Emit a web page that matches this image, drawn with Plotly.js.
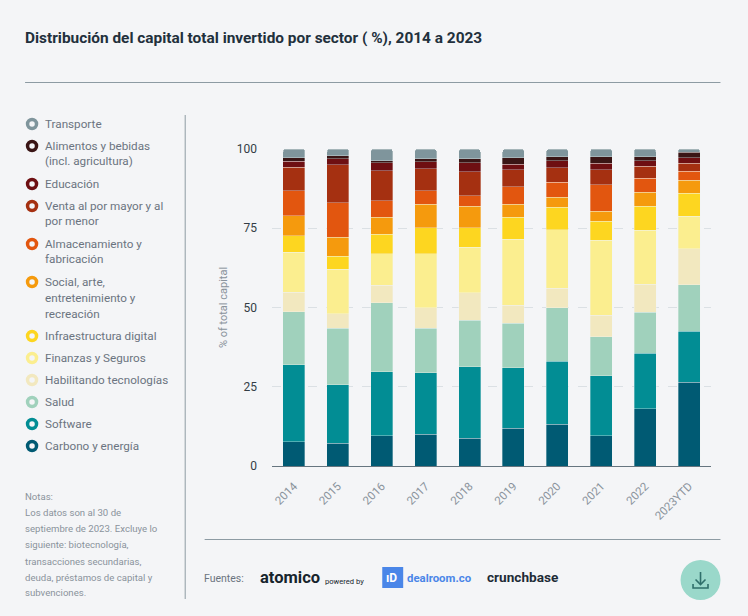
<!DOCTYPE html>
<html>
<head>
<meta charset="utf-8">
<script src="https://cdn.plot.ly/plotly-3.0.1.min.js"></script>
<style>html,body{margin:0;padding:0;background:#f4f5f7}#c{width:748px;height:616px}</style>
</head>
<body>
<div id="c"></div>
<script>
const years = ['2014','2015','2016','2017','2018','2019','2020','2021','2022','2023YTD'];
const carbono = [7.6,7.2,9.5,10,8.8,11.9,13.1,9.5,18,26.5];
const software = [24.3,18.4,20.2,19.4,22.5,19.1,19.9,18.9,17.6,16];
const salud = [16.8,17.8,21.8,14,14.7,14,17,12.4,12.9,14.7];
const habilitando = [6.1,4.6,5.5,6.5,8.6,5.7,6.1,6.7,8.9,11.4];
const finanzas = [12.6,14,10,17.1,14.4,20.8,18.5,23.7,17,10.2];
const infraestructura = [5.3,4.1,6.1,8.2,6.2,7,7,6,7.6,7.2];
const social = [6.3,6.1,5.3,7.4,6.8,4.1,3.2,3.2,4.4,4.1];
const almacenamiento = [7.9,10.9,5.3,4.3,3.3,5.5,4.7,8.4,4.3,2.9];
const venta = [7.4,12,9.5,6.9,7.6,5.4,4.6,4.7,3.8,2.5];
const educacion = [1.9,1.9,2.5,2.2,2.8,1.7,2.2,2,1.8,1.8];
const alimentos = [1.1,0.9,0.6,1,1.2,2,1.3,2.1,1.3,1.6];
const transporte = [2.7,2.1,3.7,3,3.1,2.8,2.4,2.4,2.4,1.1];

const names = ['Carbono y energía','Software','Salud','Habilitando tecnologías','Finanzas y Seguros','Infraestructura digital','Social, arte, entretenimiento y recreación','Almacenamiento y fabricación','Venta al por mayor y al por menor','Educación','Alimentos y bebidas (incl. agricultura)','Transporte'];
const colors = ['#005a73','#028d94','#a0d1bc','#f2e8bf','#fbee8f','#fdd620','#f59a0d','#e2560f','#a53011','#6e0f12','#3a1515','#7f959c'];
const seriesValues = [carbono,software,salud,habilitando,finanzas,infraestructura,social,almacenamiento,venta,educacion,alimentos,transporte];

const legendLines = [
  {i:11, lines:['Transporte'], y:[124]},
  {i:10, lines:['Alimentos y bebidas','(incl. agricultura)'], y:[146,161]},
  {i:9, lines:['Educación'], y:[184]},
  {i:8, lines:['Venta al por mayor y al','por menor'], y:[206,221]},
  {i:7, lines:['Almacenamiento y','fabricación'], y:[244,259]},
  {i:6, lines:['Social, arte,','entretenimiento y','recreación'], y:[282,298,314]},
  {i:5, lines:['Infraestructura digital'], y:[336]},
  {i:4, lines:['Finanzas y Seguros'], y:[358]},
  {i:3, lines:['Habilitando tecnologías'], y:[380]},
  {i:2, lines:['Salud'], y:[402]},
  {i:1, lines:['Software'], y:[424]},
  {i:0, lines:['Carbono y energía'], y:[446]}
];
const notes = ['Notas:','Los datos son al 30 de','septiembre de 2023. Excluye lo','siguiente: biotecnología,','transacciones secundarias,','deuda, préstamos de capital y','subvenciones.'];
const noteY = [496,512,528,544,561,577,592];

const L=271.5, R=36.5, T=149, B=150, W=748-L-R, H=616-T-B;
const X=p=>(p-L)/W, Y=p=>1-(p-T)/H;
const FF='Roboto, sans-serif';
const ann=[], shp=[];
function text(t,x,y,size,color,opt){
  ann.push(Object.assign({text:t,xref:'paper',yref:'paper',x:X(x-2.5),y:Y(y),xanchor:'left',yanchor:'middle',showarrow:false,
    font:{family:FF,size:size,color:color}},opt||{}));
}
function line(x0,y0,x1,y1,color,w){
  shp.push({type:'line',xref:'paper',yref:'paper',x0:X(x0),y0:Y(y0),x1:X(x1),y1:Y(y1),line:{color:color,width:w||1}});
}
function circle(cx,cy,r,fill,lc,lw){
  shp.push({type:'circle',xref:'paper',yref:'paper',x0:X(cx-r),x1:X(cx+r),y0:Y(cy-r),y1:Y(cy+r),fillcolor:fill,line:{color:lc||fill,width:lw||0}});
}
function path(pts,color,w){
  const d=pts.map((p,i)=>(i?'L':'M')+X(p[0])+','+Y(p[1])).join(' ');
  shp.push({type:'path',xref:'paper',yref:'paper',path:d,line:{color:color,width:w},fillcolor:'rgba(0,0,0,0)'});
}

text('<b>Distribución del capital total invertido por sector ( %), 2014 a 2023</b>',24,38,15.4,'#22303c');
line(24,82.5,721,82.5,'#8d9ba3',1);
line(184.5,115,184.5,599,'#8d9ba3',1);
line(204,539.5,721,539.5,'#8d9ba3',1);

legendLines.forEach(e=>{
  circle(31,e.y[0],4.5,'#f4f5f7',colors[e.i],3.5);
  e.lines.forEach((t,k)=>text(t,44,e.y[k],11.7,'#6b7480'));
});
notes.forEach((t,k)=>text(t,24,noteY[k],9.6,'#8a939c'));

text('Fuentes:',204,578,10.5,'#6b7480');
text('<b>atomico</b>',260,577,16.5,'#16242c');
text('powered by',325,581,7.6,'#16242c');
shp.push({type:'rect',xref:'paper',yref:'paper',x0:X(382),x1:X(403),y0:Y(567),y1:Y(588),fillcolor:'#4a86e8',line:{width:0}});
text('<b>ıD</b>',386,578,12,'#ffffff');
text('<b>dealroom.co</b>',407,578,11.4,'#4a86e8');
text('<b>crunchbase</b>',487,577,13.6,'#1d2b36');

circle(701,580,20,'#9ad8ca');
path([[701,572],[701,584]],'#2f6f6a',1.6);
path([[696,579.5],[701,584.5],[706,579.5]],'#2f6f6a',1.6);
path([[693.5,584],[693.5,588],[708.5,588],[708.5,584]],'#2f6f6a',1.6);

const traces = names.map((n,i)=>({
  type:'bar',name:n,x:years,y:seriesValues[i],
  marker:{color:colors[i],line:{color:'rgba(244,245,247,0.55)',width:0.6}}
}));

const layout={
  width:748,height:616,showlegend:false,
  paper_bgcolor:'#f4f5f7',plot_bgcolor:'#f4f5f7',
  margin:{l:L,r:R,t:T,b:B,pad:0},
  barmode:'stack',bargap:0.5,barcornerradius:3,
  font:{family:FF},
  xaxis:{type:'category',range:[-0.5,9.5],tickangle:-45,ticks:'',showgrid:false,
    showline:true,linecolor:'#66757f',linewidth:1,ticklabelstandoff:8,
    tickfont:{family:FF,size:11.5,color:'#8a939c'}},
  yaxis:{range:[0,100],tickvals:[0,25,50,75,100],ticktext:['0','25','50','75','100'],ticks:'',
    showline:false,zeroline:false,showgrid:true,gridcolor:'#dbe0e4',griddash:'dash',gridwidth:1,
    ticklabelstandoff:14,tickfont:{family:FF,size:12,color:'#333d45'},
    title:{text:'% of total capital',standoff:6,font:{family:FF,size:11,color:'#8a939c'}}},
  annotations:ann,shapes:shp
};
Plotly.newPlot('c',traces,layout,{displayModeBar:false,staticPlot:true});
</script>
</body>
</html>
